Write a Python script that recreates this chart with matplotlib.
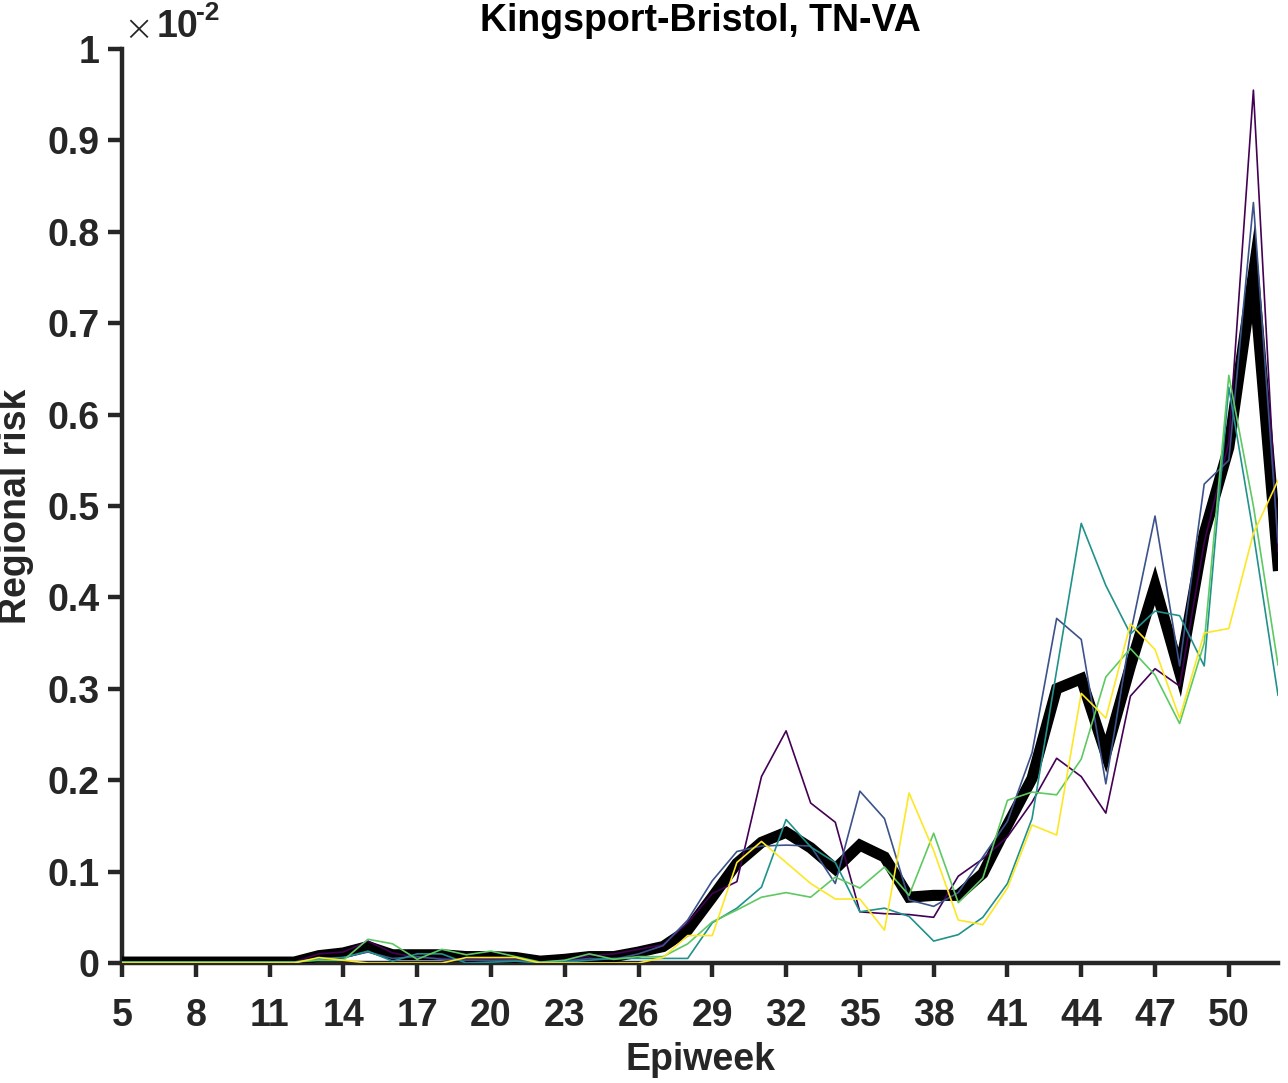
import numpy as np
import matplotlib
matplotlib.use("Agg")
import matplotlib.pyplot as plt

# epiweeks and regional risk (in units of 1e-2)
weeks = list(range(5, 53))

risk_purple = [0.001, 0.001, 0.001, 0.001, 0.001, 0.001, 0.001, 0.001,
               0.010, 0.012, 0.024, 0.011, 0.006, 0.005, 0.004, 0.005,
               0.004, 0.001, 0.003, 0.008, 0.010, 0.015, 0.020, 0.044,
               0.076, 0.089, 0.204, 0.254, 0.175, 0.154, 0.056, 0.054,
               0.053, 0.050, 0.095, 0.114, 0.138, 0.176, 0.224, 0.204,
               0.164, 0.292, 0.322, 0.303, 0.460, 0.570, 0.955, 0.450]
risk_blue = [0.001, 0.001, 0.001, 0.001, 0.001, 0.001, 0.001, 0.001,
             0.005, 0.006, 0.012, 0.005, 0.007, 0.004, 0.003, 0.003,
             0.003, 0.001, 0.002, 0.005, 0.004, 0.010, 0.019, 0.047,
             0.090, 0.122, 0.128, 0.129, 0.128, 0.087, 0.188, 0.158,
             0.069, 0.062, 0.077, 0.116, 0.155, 0.230, 0.377, 0.354,
             0.196, 0.360, 0.489, 0.325, 0.524, 0.550, 0.832, 0.460]
risk_teal = [0.001, 0.001, 0.001, 0.001, 0.001, 0.001, 0.001, 0.001,
             0.004, 0.006, 0.013, 0.002, 0.010, 0.010, 0.000, 0.001,
             0.002, 0.000, 0.001, 0.003, 0.005, 0.005, 0.005, 0.005,
             0.044, 0.060, 0.083, 0.157, 0.127, 0.110, 0.056, 0.060,
             0.051, 0.024, 0.031, 0.050, 0.087, 0.158, 0.320, 0.481,
             0.413, 0.360, 0.385, 0.380, 0.325, 0.630, 0.470, 0.293]
risk_green = [0.001, 0.001, 0.001, 0.001, 0.001, 0.001, 0.001, 0.001,
              0.003, 0.003, 0.026, 0.021, 0.004, 0.015, 0.009, 0.013,
              0.007, 0.001, 0.003, 0.010, 0.004, 0.007, 0.007, 0.021,
              0.045, 0.058, 0.072, 0.077, 0.072, 0.094, 0.082, 0.105,
              0.074, 0.142, 0.066, 0.093, 0.178, 0.187, 0.184, 0.223,
              0.313, 0.344, 0.315, 0.262, 0.350, 0.643, 0.500, 0.326]
risk_yellow = [0.000, 0.000, 0.000, 0.000, 0.000, 0.000, 0.000, 0.000,
               0.006, 0.003, 0.000, 0.000, 0.000, 0.000, 0.006, 0.006,
               0.006, 0.000, 0.000, 0.000, 0.000, 0.000, 0.006, 0.030,
               0.030, 0.110, 0.133, 0.110, 0.087, 0.070, 0.070, 0.036,
               0.186, 0.123, 0.047, 0.042, 0.082, 0.151, 0.140, 0.295,
               0.268, 0.371, 0.343, 0.268, 0.361, 0.366, 0.470, 0.528]
risk_mean = [0.001, 0.001, 0.001, 0.001, 0.001, 0.001, 0.001, 0.001,
             0.008, 0.011, 0.018, 0.009, 0.009, 0.009, 0.007, 0.007,
             0.006, 0.002, 0.004, 0.007, 0.007, 0.012, 0.018, 0.036,
             0.072, 0.109, 0.132, 0.143, 0.126, 0.103, 0.129, 0.116,
             0.072, 0.074, 0.074, 0.098, 0.151, 0.202, 0.300, 0.311,
             0.229, 0.325, 0.413, 0.318, 0.470, 0.564, 0.754, 0.435]

line_colors = ["#440154", "#3b528b", "#21918c", "#5ec962", "#fde725"]
x_ticks = list(range(5, 51, 3))
y_ticks = [0, 0.1, 0.2, 0.3, 0.4, 0.5, 0.6, 0.7, 0.8, 0.9, 1]
y_ticklabels = ["0", "0.1", "0.2", "0.3", "0.4", "0.5", "0.6", "0.7", "0.8", "0.9", "1"]

plt.rcParams['font.family'] = ['Liberation Sans', 'DejaVu Sans']
plt.rcParams['font.weight'] = 'bold'

fs = 27
fig = plt.figure(figsize=(12.88, 10.83), dpi=100)
ax = fig.add_axes([122 / 1288, 120 / 1083, (1278 - 122) / 1288, (963 - 49) / 1083])

ax.plot(weeks, risk_mean, color="black", lw=8, zorder=2, solid_joinstyle="miter")
for series, c in zip([risk_purple, risk_blue, risk_teal, risk_green, risk_yellow], line_colors):
    ax.plot(weeks, series, color=c, lw=1.2, zorder=3)

ax.set_xlim(5, 52)
ax.set_ylim(0, 1)
ax.set_xticks(x_ticks)
ax.set_yticks(y_ticks)
ax.set_yticklabels(y_ticklabels)

for side in ["top", "right"]:
    ax.spines[side].set_visible(False)
for side in ["left", "bottom"]:
    ax.spines[side].set_linewidth(3.2)
    ax.spines[side].set_color("#262626")
    ax.spines[side].set_zorder(1)

ax.tick_params(axis="both", direction="out", length=10, width=3.2, color="#262626",
               labelsize=fs, labelcolor="#262626")
ax.tick_params(axis="x", pad=15)
ax.tick_params(axis="y", pad=6)
for lab in ax.get_xticklabels() + ax.get_yticklabels():
    lab.set_fontweight("bold")

ax.set_title("Kingsport-Bristol, TN-VA", fontsize=fs, fontweight="bold", pad=13)
ax.set_xlabel("Epiweek", fontsize=fs, fontweight="bold", color="#262626", labelpad=6)
ax.set_ylabel("Regional risk", fontsize=fs, fontweight="bold", color="#262626", labelpad=10)

# exponent label like MATLAB
fig.text(123 / 1288, 1 - 30 / 1083, "\u00d7", fontsize=26, color="#262626",
         va="center", ha="left", fontweight="light", family="DejaVu Sans")
fig.text(157 / 1288, 1 - 27 / 1083, "10", fontsize=fs, color="#262626",
         va="center", ha="left", fontweight="bold")
fig.text(196 / 1288, 1 - 13 / 1083, "-2", fontsize=19, color="#262626",
         va="center", ha="left", fontweight="bold")

fig.savefig("out.png", dpi=100, facecolor="white")
